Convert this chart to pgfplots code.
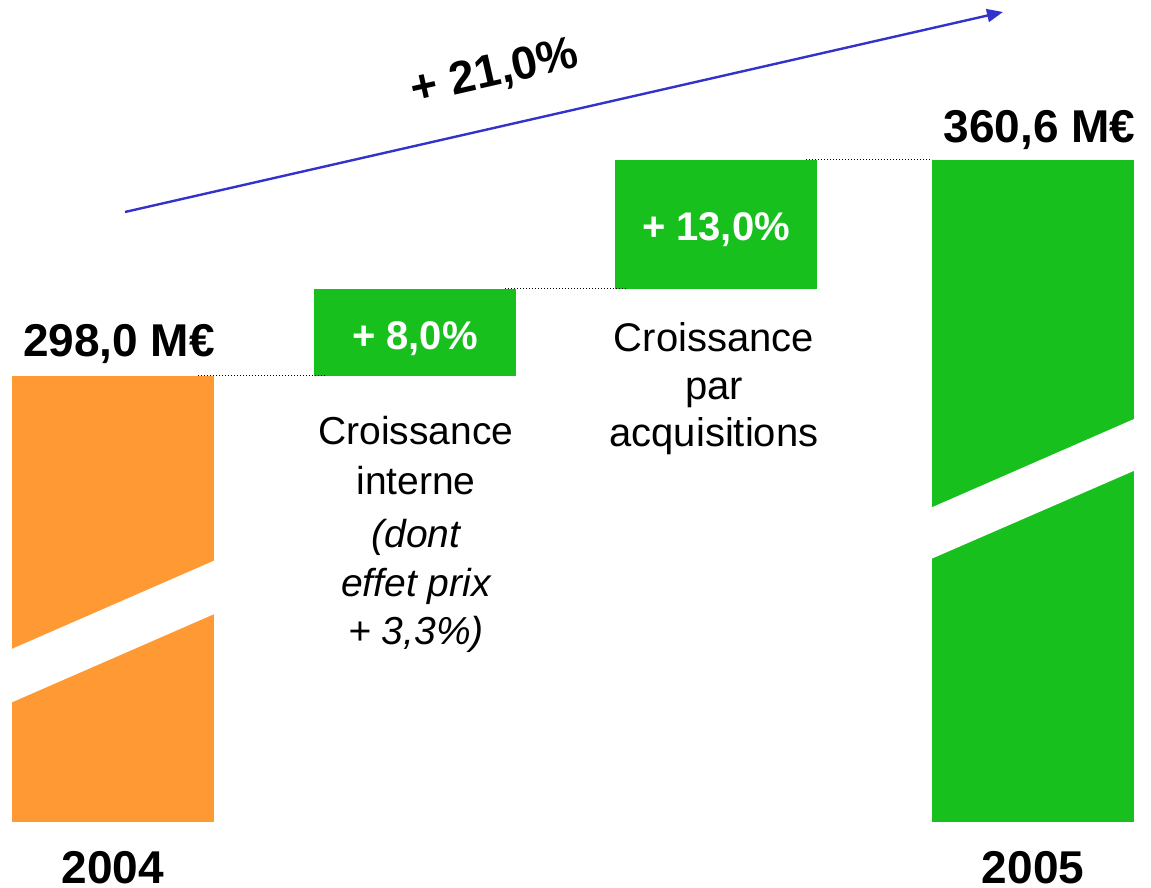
\documentclass[border=0pt]{standalone}
\usepackage{fontspec}
\setmainfont{Liberation Sans}
\usepackage{pgfplots}
\pgfplotsset{compat=1.18}
\usetikzlibrary{arrows.meta}
\definecolor{barorange}{RGB}{255,153,51}
\definecolor{bargreen}{RGB}{24,192,30}
\definecolor{arrowblue}{RGB}{51,51,204}
\begin{document}
\begin{tikzpicture}
\begin{axis}[
  scale only axis, width=575.5pt, height=444pt,
  xmin=0, xmax=1151, ymin=0, ymax=888,
  hide axis, clip=false,
]
\coordinate (BL) at (axis cs:0,0);
\coordinate (TR) at (axis cs:1151,888);
% 2004 bar (broken scale)
\addplot[fill=barorange, draw=none] coordinates {(12,66) (214,66) (214,512) (12,512)} -- cycle;
\addplot[fill=white, draw=none] coordinates {(11,238.7) (215,327.7) (215,274.3) (11,185.3)} -- cycle;
% +8,0 % step
\addplot[fill=bargreen, draw=none] coordinates {(314,512) (516,512) (516,599) (314,599)} -- cycle;
% +13,0 % step
\addplot[fill=bargreen, draw=none] coordinates {(615,599) (817,599) (817,728) (615,728)} -- cycle;
% 2005 bar (broken scale)
\addplot[fill=bargreen, draw=none] coordinates {(932,66) (1134,66) (1134,728) (932,728)} -- cycle;
\addplot[fill=white, draw=none] coordinates {(931,380.3) (1135,469.4) (1135,417.6) (931,329)} -- cycle;
% connectors
\addplot[black, line width=0.8pt, dash pattern=on 0.7pt off 0.8pt] coordinates {(198,512.5) (326,512.5)};
\addplot[black, line width=0.8pt, dash pattern=on 0.7pt off 0.8pt] coordinates {(505,599.5) (627,599.5)};
\addplot[black, line width=0.8pt, dash pattern=on 0.7pt off 0.8pt] coordinates {(806,728.5) (932,728.5)};
% overall growth arrow
\addplot[arrowblue, line width=1.2pt, -{Triangle[length=8pt,width=6.5pt]}] coordinates {(125,676) (1003,876)};
% labels
\node[anchor=base, inner sep=0pt, font=\fontsize{23}{27}\selectfont\bfseries] at (axis cs:119,531) {298,0 M€};
\node[anchor=base, inner sep=0pt, font=\fontsize{23}{27}\selectfont\bfseries] at (axis cs:1039.5,745) {360,6 M€};
\node[anchor=base, inner sep=0pt, font=\fontsize{23}{27}\selectfont\bfseries] at (axis cs:113,4.5) {2004};
\node[anchor=base, inner sep=0pt, font=\fontsize{23}{27}\selectfont\bfseries] at (axis cs:1033,4.5) {2005};
\node[anchor=center, inner sep=0pt, rotate=12.8, font=\fontsize{23}{27}\selectfont\bfseries] at (axis cs:495,815) {+ 21,0\%};
\node[anchor=base, inner sep=0pt, text=white, font=\fontsize{20}{24}\selectfont\bfseries] at (axis cs:415,538.5) {+ 8,0\%};
\node[anchor=base, inner sep=0pt, text=white, font=\fontsize{20}{24}\selectfont\bfseries] at (axis cs:716,647.3) {+ 13,0\%};
% descriptions
\node[anchor=base, inner sep=0pt, font=\fontsize{19.5}{24}\selectfont] at (axis cs:416,443) {Croissance};
\node[anchor=base, inner sep=0pt, font=\fontsize{19.5}{24}\selectfont] at (axis cs:416,393) {interne};
\node[anchor=base, inner sep=0pt, font=\fontsize{19.5}{24}\selectfont\itshape] at (axis cs:416,340) {(dont};
\node[anchor=base, inner sep=0pt, font=\fontsize{19.5}{24}\selectfont\itshape] at (axis cs:416,291) {effet prix};
\node[anchor=base, inner sep=0pt, font=\fontsize{19.5}{24}\selectfont\itshape] at (axis cs:416,243) {+ 3,3\%)};
\node[anchor=base, inner sep=0pt, font=\fontsize{20}{24}\selectfont] at (axis cs:714,536) {Croissance};
\node[anchor=base, inner sep=0pt, font=\fontsize{20}{24}\selectfont] at (axis cs:714,488) {par};
\node[anchor=base, inner sep=0pt, font=\fontsize{20}{24}\selectfont] at (axis cs:714,441) {acquisitions};
\end{axis}
\pgfresetboundingbox
\path (BL) rectangle (TR);
\end{tikzpicture}
\end{document}
